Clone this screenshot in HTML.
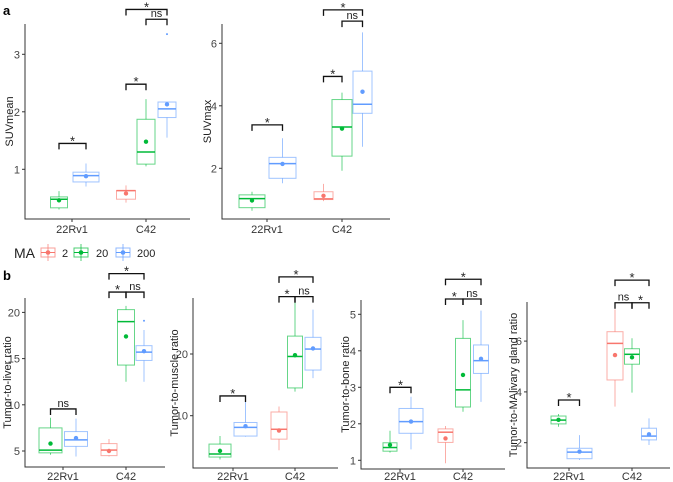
<!DOCTYPE html>
<html><head><meta charset="utf-8">
<style>
html,body{margin:0;padding:0;background:#fff;}
svg{display:block;font-family:"Liberation Sans",sans-serif;}
</style></head>
<body>
<svg id="chart" width="673" height="482" viewBox="0 0 673 482"></svg>
<script>
// ---- data ----
const categories = ["22Rv1", "C42"];
const groupNames = ["2", "20", "200"];
const groupColors = ["#F8766D", "#00BA38", "#619CFF"];
// per box: [min, q1, median, q3, max, mean]
const suvmeanGroups = [1, 2, 0, 1, 2];
const suvmeanCats = [0, 0, 1, 1, 1];
const suvmeanStats = [[0.30,0.33,0.48,0.52,0.62,0.46],[0.70,0.78,0.89,0.95,1.10,0.88],[0.42,0.48,0.63,0.63,0.72,0.58],[1.05,1.09,1.30,1.87,2.22,1.48],[1.55,1.90,2.05,2.17,2.17,2.13]];
const suvmeanOutliers = [[],[],[],[],[3.35]];
const suvmeanTicks = [1, 2, 3];
const suvmeanBrackets = [[0,1,1.45,"*"],[2,3,2.48,"*"],[3,4,3.61,"ns"],[2,4,3.78,"*"]];

const suvmaxGroups = [1, 2, 0, 1, 2];
const suvmaxCats = [0, 0, 1, 1, 1];
const suvmaxStats = [[0.64,0.74,1.03,1.15,1.25,0.97],[1.52,1.68,2.15,2.35,2.96,2.14],[0.95,1.0,1.02,1.25,1.5,1.12],[1.92,2.39,3.32,4.2,4.42,3.27],[2.69,3.76,4.05,5.11,6.35,4.45]];
const suvmaxOutliers = [[],[],[],[],[]];
const suvmaxTicks = [2, 4, 6];
const suvmaxBrackets = [[0,1,3.39,"*"],[2,3,4.94,"*"],[3,4,6.71,"ns"],[2,4,7.07,"*"]];

const liverGroups = [1, 2, 0, 1, 2];
const liverCats = [0, 0, 1, 1, 1];
const liverStats = [[4.6,4.8,5.1,7.5,8.6,5.8],[4.4,5.5,6.2,7.1,8.5,6.4],[4.4,4.5,5.1,5.8,6.3,5.0],[12.5,14.3,19.0,20.3,20.7,17.4],[12.5,14.8,15.7,16.4,18.1,15.8]];
const liverOutliers = [[],[],[],[],[19.1]];
const liverTicks = [5, 10, 15, 20];
const liverBrackets = [[0,1,9.55,"ns"],[2,3,22.2,"*"],[3,4,22.2,"ns"],[2,4,24.2,"*"]];

const muscleGroups = [1, 2, 0, 1, 2];
const muscleCats = [0, 0, 1, 1, 1];
const muscleStats = [[2.9,3.3,3.8,5.4,6.7,4.3],[6.6,6.7,8.1,8.9,13.1,8.3],[4.4,6.2,7.8,10.6,11.5,7.6],[13.9,14.5,19.6,22.9,28.7,19.8],[16.1,17.4,20.8,22.7,27.2,20.9]];
const muscleOutliers = [[],[],[],[],[]];
const muscleTicks = [10, 20];
const muscleBrackets = [[0,1,13.2,"*"],[2,3,29.3,"*"],[3,4,29.3,"ns"],[2,4,32.5,"*"]];

const boneGroups = [1, 2, 0, 1, 2];
const boneCats = [0, 0, 1, 1, 1];
const boneStats = [[1.21,1.25,1.35,1.48,1.81,1.42],[1.3,1.74,2.06,2.42,2.74,2.06],[0.92,1.49,1.77,1.86,1.94,1.6],[2.33,2.46,2.93,4.34,4.84,3.34],[2.6,3.38,3.73,4.16,5.1,3.78]];
const boneOutliers = [[],[],[],[],[]];
const boneTicks = [1, 2, 3, 4, 5];
const boneBrackets = [[0,1,3.0,"*"],[2,3,5.42,"*"],[3,4,5.42,"ns"],[2,4,5.96,"*"]];

const salivaryGroups = [1, 2, 0, 1, 2];
const salivaryCats = [0, 0, 1, 1, 1];
const salivaryStats = [[2.63,2.74,2.89,3.05,3.13,2.9],[1.32,1.37,1.63,1.78,2.3,1.65],[3.42,4.47,5.91,6.37,7.25,5.45],[3.97,5.09,5.48,5.7,6.11,5.36],[1.91,2.11,2.26,2.57,2.96,2.33]];
const salivaryOutliers = [[],[],[],[],[]];
const salivaryTicks = [2, 4, 6];
const salivaryBrackets = [[0,1,3.68,"*"],[2,3,7.51,"ns"],[3,4,7.51,"*"],[2,4,8.4,"*"]];

// ---- layout (pixels) ----
const panels = [
 {name:"suvmean", title:"SUVmean", l:25,t:24,r:190,b:219, y0:226.8, ppu:57.5, tx:9, catX:[72,146], off:[[-13,14],[-20,0,21]], w:[17,26,19,18,18], lx:229,
  groups:suvmeanGroups, cats:suvmeanCats, stats:suvmeanStats, out:suvmeanOutliers, ticks:suvmeanTicks, br:suvmeanBrackets},
 {name:"suvmax", title:"SUVmax", l:222,t:24,r:390,b:219, y0:230.8, ppu:31.25, tx:207, catX:[267,342], off:[[-15,15.5],[-18.5,0,20.5]], w:[26,27,19,20,19], lx:229,
  groups:suvmaxGroups, cats:suvmaxCats, stats:suvmaxStats, out:suvmaxOutliers, ticks:suvmaxTicks, br:suvmaxBrackets},
 {name:"liver", title:"Tumor-to-liver ratio", l:25,t:298,r:165,b:467, y0:497.2, ppu:9.24, tx:7, catX:[63,126], off:[[-12.5,13],[-17,0,18]], w:[23,23,16,17,16], lx:476,
  groups:liverGroups, cats:liverCats, stats:liverStats, out:liverOutliers, ticks:liverTicks, br:liverBrackets},
 {name:"muscle", title:"Tumor-to-muscle ratio", l:193,t:298,r:338,b:468, y0:477.4, ppu:6.17, tx:174, catX:[233,295], off:[[-13,12.5],[-16,0,18]], w:[22,23,16,15,16], lx:476,
  groups:muscleGroups, cats:muscleCats, stats:muscleStats, out:muscleOutliers, ticks:muscleTicks, br:muscleBrackets},
 {name:"bone", title:"Tumor-to-bone ratio", l:361,t:300,r:505,b:469, y0:496.8, ppu:36.5, tx:345, catX:[400,463], off:[[-10,11],[-17.5,0,18]], w:[14,24,15,15,15], lx:476,
  groups:boneGroups, cats:boneCats, stats:boneStats, out:boneOutliers, ticks:boneTicks, br:boneBrackets},
 {name:"salivary", title:"Tumor-to-MAlivary gland ratio", l:527,t:302,r:670,b:468, y0:493.5, ppu:25.4, tx:513, catX:[569,632], off:[[-10.5,10.5],[-17,0,17]], w:[15,25,16,15,15], lx:476,
  groups:salivaryGroups, cats:salivaryCats, stats:salivaryStats, out:salivaryOutliers, ticks:salivaryTicks, br:salivaryBrackets}
];

const NS = "http://www.w3.org/2000/svg";
const svg = document.getElementById("chart");
function mk(tag, attrs, parent) {
  const e = document.createElementNS(NS, tag);
  for (const k in attrs) e.setAttribute(k, attrs[k]);
  (parent || svg).appendChild(e);
  return e;
}

panels.forEach(p => {
  const g = mk("g", {});
  
  
  const yS = v => p.y0 - v * p.ppu;
  const idxInCat = p.cats.map((c, i) => p.cats.slice(0, i).filter(x => x === c).length);
  const xS = i => p.catX[p.cats[i]] + p.off[p.cats[i]][idxInCat[i]];

  const ax = mk("path", {d:`M${p.l},${p.t}V${p.b}H${p.r}`, stroke:"#333", fill:"none", "stroke-width":1}, g);
  
  
  p.ticks.forEach(tv => {
    const y = yS(tv);
    mk("line", {x1:p.l-3, x2:p.l, y1:y, y2:y, stroke:"#333"}, g);
    const t = mk("text", {x:p.l-5, y:y+4, "text-anchor":"end", "font-size":11, fill:"#444"}, g);
    t.textContent = tv;
    
    
  });
  categories.forEach((c, ci) => {
    const x = p.catX[ci];
    mk("line", {x1:x, x2:x, y1:p.b, y2:p.b+3, stroke:"#333"}, g);
    const t = mk("text", {x:x, y:p.lx+4, "text-anchor":"middle", "font-size":11, fill:"#333"}, g);
    t.textContent = c;
    
    
  });
  const yt = mk("text", {x:0, y:0, transform:`translate(${p.tx+4},${(p.t+p.b)/2}) rotate(-90)`, "text-anchor":"middle", "font-size":11, fill:"#222"}, g);
  yt.textContent = p.title;
  
  

  p.stats.forEach((s, i) => {
    const col = groupColors[p.groups[i]];
    const x = xS(i), w = p.w[i];
    const bg = mk("g", {}, g);
    
    
    mk("line", {x1:x, x2:x, y1:yS(s[0]), y2:yS(s[1]), stroke:col, "stroke-opacity":0.6}, bg);
    mk("line", {x1:x, x2:x, y1:yS(s[3]), y2:yS(s[4]), stroke:col, "stroke-opacity":0.6}, bg);
    mk("rect", {x:x-w/2, y:yS(s[3]), width:w, height:Math.max(0.5, yS(s[1])-yS(s[3])), fill:"none", stroke:col, "stroke-opacity":0.6}, bg);
    mk("line", {x1:x-w/2, x2:x+w/2, y1:yS(s[2]), y2:yS(s[2]), stroke:col, "stroke-width":1.5}, bg);
    mk("circle", {cx:x, cy:yS(s[5]), r:2.2, fill:col}, bg);
    p.out[i].forEach(o => {
      const c = mk("circle", {cx:x, cy:yS(o), r:1, fill:col}, bg);
      
      
    });
  });

  p.br.forEach(b => {
    const x1 = xS(b[0]), x2 = xS(b[1]), y = yS(b[2]);
    const bg = mk("g", {}, g);
    
    
    mk("path", {d:`M${x1},${y+6}V${y}H${x2}V${y+6}`, stroke:"#111", fill:"none", "stroke-width":1.3}, bg);
    const t = mk("text", {x:(x1+x2)/2, y: b[3]==="*" ? y+2 : y-2, "text-anchor":"middle", "font-size": b[3]==="*" ? 13 : 11, fill:"#222"}, bg);
    t.textContent = b[3];
  });
});

const la = mk("text", {x:3, y:15, "font-size":13, "font-weight":"bold"});
la.textContent = "a";


const lb = mk("text", {x:3, y:280, "font-size":13, "font-weight":"bold"});
lb.textContent = "b";



const lg = mk("g", {});


const lt = mk("text", {x:14, y:258, "font-size":14, fill:"#222"}, lg);
lt.textContent = "MA";
const keyX = [41, 74, 116];
const labX = [62, 96, 137];
groupNames.forEach((n, i) => {
  const eg = mk("g", {}, lg);
  
  
  const c = groupColors[i];
  mk("rect", {x:keyX[i], y:248, width:14, height:9, fill:"none", stroke:c, "stroke-opacity":0.7}, eg);
  mk("line", {x1:keyX[i]+7, x2:keyX[i]+7, y1:244, y2:261, stroke:c, "stroke-opacity":0.7}, eg);
  mk("line", {x1:keyX[i], x2:keyX[i]+14, y1:252.5, y2:252.5, stroke:c}, eg);
  mk("circle", {cx:keyX[i]+7, cy:252.5, r:2.3, fill:c}, eg);
  const t = mk("text", {x:labX[i], y:257, "font-size":11, fill:"#222"}, eg);
  t.textContent = n;
});
</script>
</body></html>
